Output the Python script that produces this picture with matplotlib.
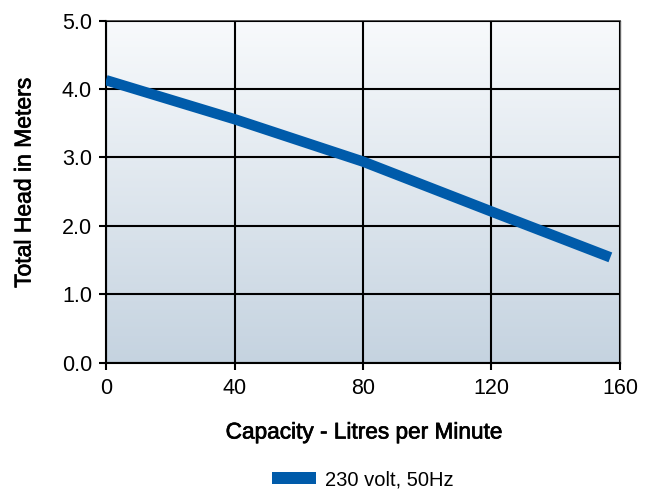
import numpy as np
import matplotlib
matplotlib.use("Agg")
import matplotlib.pyplot as plt
from matplotlib.patches import Patch
import matplotlib.patheffects as pe

plt.rcParams['font.family'] = ['Liberation Sans', 'DejaVu Sans']

capacity = [0, 40, 80, 120, 157]
head = [4.13, 3.56, 2.94, 2.21, 1.54]
x_ticks = [0, 40, 80, 120, 160]
y_ticks = [0.0, 1.0, 2.0, 3.0, 4.0, 5.0]
y_tick_labels = ["0.0", "1.0", "2.0", "3.0", "4.0", "5.0"]
series_label = "230 volt, 50Hz"
x_label = "Capacity - Litres per Minute"
y_label = "Total Head in Meters"

line_color = "#005BAA"

W, H = 654, 490
fig = plt.figure(figsize=(6.54, 4.9), dpi=100)
ax = fig.add_axes([0.1621, 0.2598, 0.948 - 0.1621, 0.9578 - 0.2598])
ax.set_xlim(0, 160)
ax.set_ylim(0, 5)

# gradient background
top = np.array([248, 250, 252]) / 255
bot = np.array([197, 211, 224]) / 255
t = np.linspace(0, 1, 256)[:, None]
grad = (top[None, :] * (1 - t) + bot[None, :] * t)[:, None, :]
ax.imshow(grad, aspect='auto', extent=[0, 160, 0, 5], origin='upper', zorder=0)

ax.set_xticks(x_ticks)
ax.set_yticks(y_ticks)
ax.set_yticklabels(y_tick_labels)
ax.grid(True, color='black', linewidth=1.5, zorder=1)
ax.set_axisbelow(False)

ax.plot(capacity, head, color=line_color, linewidth=7.5, solid_capstyle='butt', zorder=3)

for s in ['left', 'bottom']:
    ax.spines[s].set_color('black')
    ax.spines[s].set_linewidth(1.5)
ax.spines['top'].set_color('#333333')
ax.spines['top'].set_linewidth(1.2)
ax.spines['right'].set_color('#666666')
ax.spines['right'].set_linewidth(1.0)

ax.tick_params(direction='out', length=5, width=1.5, labelsize=15.5, colors='black', pad=5)
ax.tick_params(axis='x', pad=6)

stroke = [pe.withStroke(linewidth=0.5, foreground='black')]
ax.set_xlabel(x_label, fontsize=16.3, path_effects=stroke)
ax.set_ylabel(y_label, fontsize=16.5, path_effects=stroke)
# place labels in pixel positions
ax_left, ax_bottom_px, ax_w, ax_h = 106, 362.7, 514, 342
ax.xaxis.set_label_coords((364 - ax_left) / ax_w, (ax_bottom_px - 432) / ax_h)
ax.xaxis.label.set_va('center')
ax.yaxis.set_label_coords((24 - ax_left) / ax_w, (ax_bottom_px - 183) / ax_h)
ax.yaxis.label.set_va('center')

handle = Patch(facecolor=line_color, edgecolor='none')
fig.legend([handle], [series_label], loc='center',
           bbox_to_anchor=((273 + 453) / 2 / W, (H - 480) / H),
           frameon=False, fontsize=14.5, handlelength=2.15, handleheight=0.55,
           handletextpad=0.48, borderpad=0)

fig.savefig("out.png", dpi=100)
